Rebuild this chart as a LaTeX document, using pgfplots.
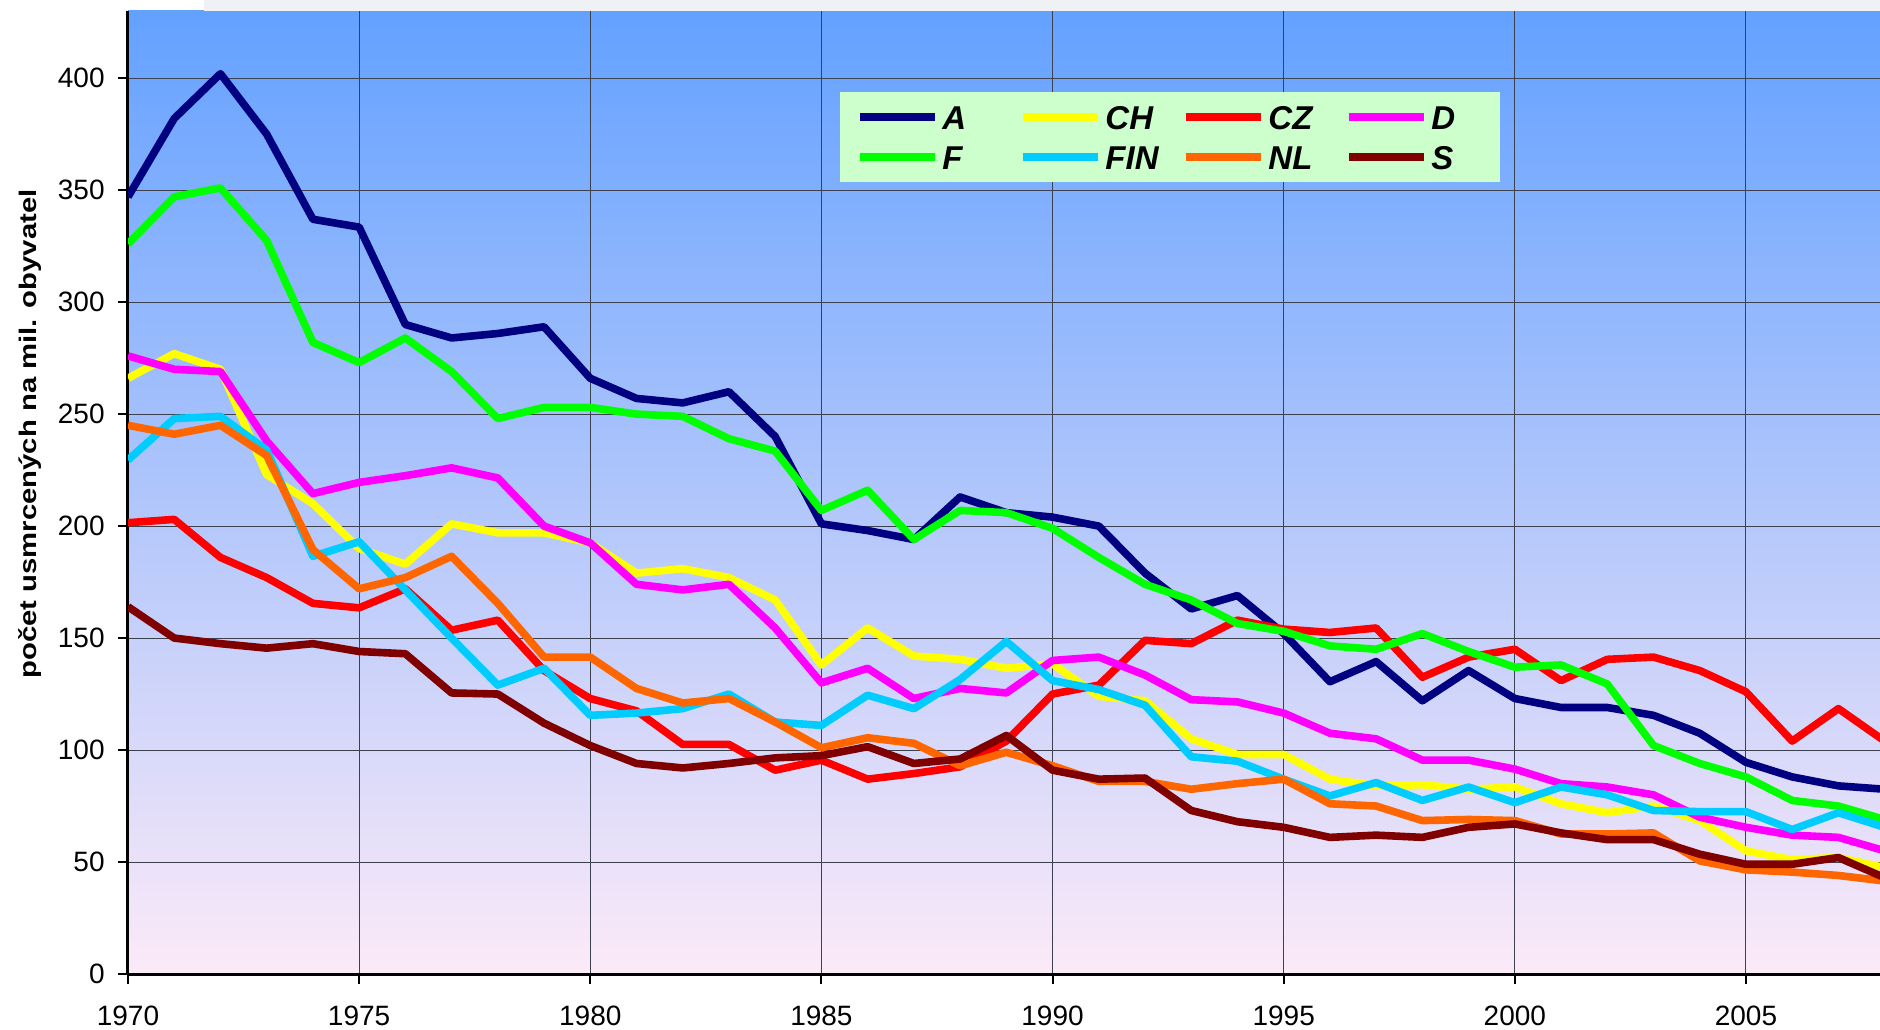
\documentclass[border=0pt]{standalone}
\usepackage{fontspec}
\setmainfont{Liberation Sans}
\usepackage{graphicx}
\usepackage{pgfplots}
\usepackage{pgfplotstable}
\pgfplotsset{compat=1.18}

\definecolor{cA}{RGB}{0,0,128}
\definecolor{cCH}{RGB}{255,255,0}
\definecolor{cCZ}{RGB}{255,0,0}
\definecolor{cD}{RGB}{255,0,255}
\definecolor{cF}{RGB}{0,255,0}
\definecolor{cFIN}{RGB}{0,204,255}
\definecolor{cNL}{RGB}{255,102,0}
\definecolor{cS}{RGB}{128,0,0}
\definecolor{bgtop}{RGB}{99,161,255}
\definecolor{bgbot}{RGB}{252,234,248}
\definecolor{legbg}{RGB}{204,255,204}
\definecolor{gridc}{RGB}{60,65,80}
\definecolor{titlebg}{RGB}{240,241,245}

% usmrceni na mil. obyvatel, 1970-2008
\pgfplotstableread{
year A CH CZ D F FIN NL S
1970 347 266 201.5 276 326 229.5 245 164
1971 382 277 203 270 347 248 241 150
1972 402 270 186 269 351 249 245 147.5
1973 375 223 177 238 327.5 234 231.5 145.5
1974 337 210 165.5 214.5 282 186.5 189.5 147.5
1975 333.5 190 163.5 219.5 273 193 172 144
1976 290 183 172 222.5 284 171.5 177 143
1977 284 201 153.5 226 269 150 186.5 125.5
1978 286 197 158 221.5 248 129 165.5 125
1979 289 197 135.5 200 253 136.5 141.5 112
1980 266 192.5 123 192.5 253 115.5 141.5 102
1981 257 179 117.5 174 250 116.5 127.5 94
1982 255 181 102.5 171.5 249 118.5 121 92
1983 260 177 102.5 174 239 125 123 94
1984 240 167 91 154.5 233.5 112.5 112.5 96.5
1985 201 138 95.5 130 207 111 101 97.5
1986 198 154.5 87 136.5 216 124.5 105.5 101.5
1987 194 142 89.5 123 194 118.5 103 94
1988 213 140.5 92.5 127.5 207 131.5 93 96
1989 206 136.5 104 125.5 206 148.5 99 106.5
1990 204 138.5 125 140 199 131 93 91
1991 200 124 129 141.5 186 127 86 87
1992 179 122 149 133.5 174 120 86 87.5
1993 163 105 147.5 122.5 167 97 82.5 73
1994 169 98 158 121.5 156.5 95 85 68
1995 152 98 154 116.5 153 87 87 65.5
1996 130.5 87 152.5 107.5 146.5 79.5 76 61
1997 139.5 84 154.5 105 145 85.5 75 62
1998 122 84.5 132.5 95.5 152 77.5 68.5 61
1999 135.5 82.5 141.5 95.5 144 83.5 69 65.5
2000 123 83.5 145 91.5 137 76.5 68.5 67
2001 119 76 131 85 138 83.5 62.5 63
2002 119 72 140.5 83.5 129.5 80 62.5 60
2003 115.5 75 141.5 80 102 73 63 60
2004 107.5 68.5 135.5 70 94 72.5 50.5 53.5
2005 94.5 55 126 65.5 88 72.5 46.5 49
2006 88 51 104 62 77.5 64.5 45.5 49
2007 84 52 118.5 61 75 72 44 52
2008 82.5 47.5 104 55 69 65.5 41.5 43
}\data

\begin{document}
\begin{tikzpicture}
\fill[white] (0,0) rectangle (940bp,515bp);
\path[use as bounding box] (0,0) rectangle (940bp,515bp);
\begin{axis}[
    at={(64bp,28bp)}, anchor=south west,
    scale only axis, width=876bp, height=481.5bp,
    xmin=1970, xmax=2007.9, ymin=0, ymax=430,
    xtick={1970,1975,...,2005},
    ytick={0,50,...,400},
    axis lines*=left,
    axis line style={line width=1.5bp, black},
    tick align=outside, major tick length=5bp,
    tick style={line width=1bp, black},
    grid=major, grid style={gridc, line width=0.5bp},
    axis background/.style={top color=bgtop, bottom color=bgbot},
    /pgf/number format/assume math mode=true,
    /pgf/number format/1000 sep={},
    tick label style={font=\fontsize{14bp}{14bp}\selectfont, inner sep=0pt},
    xticklabel style={anchor=base, yshift=-20.5bp},
    yticklabel style={anchor=east, xshift=-6.5bp},
    ylabel={\scalebox{1.22}[1]{počet usmrcených na mil. obyvatel}},
    ylabel style={font=\bfseries\fontsize{12bp}{12bp}\selectfont,
                  at={(axis description cs:-0.0559,0.5607)}, anchor=center},
    legend columns=4,
    legend image code/.code={\draw[#1, line width=4bp] (0bp,0bp) -- (37.5bp,0bp);},
    legend style={at={(axis description cs:0.4064,0.9159)}, anchor=north west,
                  fill=legbg, draw=none, inner xsep=8bp, inner ysep=6.5bp,
                  font=\bfseries\itshape\fontsize{16.5bp}{16.5bp}\selectfont,
                  nodes={inner xsep=1.5bp, inner ysep=0pt, text width=25bp,
                         text height=12bp, text depth=0bp, align=left},
                  cells={anchor=west}, row sep=7.85bp,
                  /tikz/every even column/.append style={column sep=12bp}},
    every axis plot/.append style={line width=3.8bp, line join=round},
]
\addplot[cA]   table[x=year, y=A]   {\data}; \addlegendentry{A}
\addplot[cCH]  table[x=year, y=CH]  {\data}; \addlegendentry{CH}
\addplot[cCZ]  table[x=year, y=CZ]  {\data}; \addlegendentry{CZ}
\addplot[cD]   table[x=year, y=D]   {\data}; \addlegendentry{D}
\addplot[cF]   table[x=year, y=F]   {\data}; \addlegendentry{F}
\addplot[cFIN] table[x=year, y=FIN] {\data}; \addlegendentry{FIN}
\addplot[cNL]  table[x=year, y=NL]  {\data}; \addlegendentry{NL}
\addplot[cS]   table[x=year, y=S]   {\data}; \addlegendentry{S}
\end{axis}
\fill[titlebg] (102bp,509.5bp) rectangle (940bp,515bp);
\end{tikzpicture}
\end{document}
